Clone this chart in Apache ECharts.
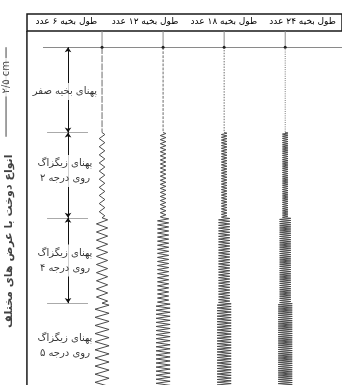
<!DOCTYPE html>
<html><head><meta charset="utf-8">
<script src="https://cdn.jsdelivr.net/npm/echarts@6/dist/echarts.min.js"></script>
<style>html,body{margin:0;padding:0;background:#fff}#c{width:342px;height:385px}</style>
</head><body><div id="c"></div>
<script>
// ---- data ----
const columnLabels = ['طول بخیه ۶ عدد', 'طول بخیه ۱۲ عدد', 'طول بخیه ۱۸ عدد', 'طول بخیه ۲۴ عدد'];
const stitchCounts = [6, 12, 18, 24];
const periodsPerRow = [10.5, 21, 31, 40];      // zigzag periods counted in one 2.5 cm row
const rowLabels = ['پهنای بخیه صفر', 'پهنای زیگزاگ\nروی درجه ۲', 'پهنای زیگزاگ\nروی درجه ۴', 'پهنای زیگزاگ\nروی درجه ۵'];
const zigzagWidths = [0, 2, 4, 5];
const yTitle = 'انواع دوخت با عرض های مختلف';
const rowLengthLabel = '۲/۵ cm';

// ---- layout ----
const FONT = 'DejaVu Sans';
const Y_MIN = -0.19, Y_MAX = 3.96, X_MIN = -1.671, X_MAX = 3.93;
const GRID_TOP = 31, H = 385;
const ROW_PX = (H - GRID_TOP) / (Y_MAX - Y_MIN);
const AMP = 0.023;           // half peak-to-peak (x units) per width unit
const borderX = -1.23, labelX = -0.607, arrowX = -0.557, dimX = -1.572, titleX = -1.52;
const labelYs = [0.52, 1.45, 2.5, 3.5];
const HIDDEN = { color: 'rgba(0,0,0,0)' };

const series = [];
stitchCounts.forEach((cnt, c) => {
  const n = periodsPerRow[c];
  series.push({
    type: 'line', z: 4, silent: true,
    data: [{ value: [c, Y_MIN], symbol: 'none' }, { value: [c, 0], symbol: 'circle', symbolSize: 3 }],
    lineStyle: { color: '#888', width: 1 }, itemStyle: { color: '#222' }
  });
  const pts = [];
  zigzagWidths.forEach((w, r) => {
    if (w === 0) {
      const pitch = ROW_PX / n;
      series.push({
        type: 'line', z: 4, silent: true, showSymbol: false,
        data: [[c, r], [c, r + 1]],
        lineStyle: { color: '#6a6a6a', width: 1, type: [Math.max(pitch - 1.3, 0.9), 1.3] }
      });
      return;
    }
    const a = w * AMP;
    const peaks = Math.round(2 * n);
    pts.push([c, r]);
    for (let j = 0; j < peaks; j++) pts.push([c + (j % 2 ? -a : a), r + (j + 0.5) / peaks]);
    pts.push([c, r + 1]);
  });
  series.push({
    type: 'line', z: 4, silent: true, showSymbol: false, data: pts,
    lineStyle: { color: '#4a4a4a', width: 1 }
  });
});

// left frame line
series.push({
  type: 'line', silent: true, showSymbol: false, z: 5,
  data: [[borderX, Y_MIN], [borderX, Y_MAX]], lineStyle: { color: '#1a1a1a', width: 1.5 }
});
// 2.5 cm dimension line (left margin)
series.push({
  type: 'line', silent: true, showSymbol: false, z: 2,
  data: [[dimX, 0], [dimX, 1.05]], lineStyle: { color: '#444', width: 1 }
});
// guide lines
const guideLines = [
  [{ coord: [-0.967, 0], lineStyle: { color: '#8a8a8a', width: 1, type: 'solid' } }, { coord: [X_MAX, 0] }]
];
[1, 2, 3].forEach(y => guideLines.push([{ coord: [-0.9, y], lineStyle: { color: '#aaa', width: 1, type: 'solid' } }, { coord: [-0.23, y] }]));
series.push({
  type: 'line', data: [], silent: true,
  markLine: { z: 1, silent: true, symbol: 'none', animation: false, label: { show: false },
    lineStyle: { type: 'solid' }, data: guideLines }
});
// dimension arrows
series.push({
  type: 'line', data: [], silent: true,
  markLine: {
    z: 1, silent: true, symbol: ['arrow', 'arrow'], symbolSize: 5, animation: false,
    label: { show: false }, lineStyle: { color: '#111', width: 1, type: 'solid' },
    data: zigzagWidths.map((w, r) => [{ coord: [arrowX, r] }, { coord: [arrowX, r + 1] }])
  }
});
// row labels
series.push({
  type: 'scatter', z: 3, silent: true, symbolSize: 1, itemStyle: HIDDEN,
  data: rowLabels.map((t, i) => ({ value: [labelX, labelYs[i]], name: t })),
  label: {
    show: true, position: 'inside', formatter: '{b}', fontFamily: FONT, fontSize: 10, lineHeight: 15,
    color: '#000', backgroundColor: '#fff', padding: [1, 1], align: 'center'
  }
});
// side titles
series.push({
  type: 'scatter', z: 3, silent: true, symbolSize: 1, itemStyle: HIDDEN,
  data: [
    { value: [titleX, (241 - 47) / ROW_PX], name: yTitle,
      label: { fontWeight: 'bold', fontSize: 11 } },
    { value: [dimX, (77 - 47) / ROW_PX], name: rowLengthLabel,
      label: { fontSize: 10, backgroundColor: '#fff', padding: [2, 3] } }
  ],
  label: { show: true, position: 'inside', formatter: '{b}', rotate: 90, fontFamily: FONT, color: '#111' }
});

const chart = echarts.init(document.getElementById('c'), null, { renderer: 'canvas' });
chart.setOption({
  animation: false,
  backgroundColor: '#fff',
  textStyle: { fontFamily: FONT },
  grid: [
    { left: 0, right: 0, top: GRID_TOP, bottom: 0 },
    { left: 27, right: -2, top: 14, height: 17, show: true, borderColor: '#1a1a1a', borderWidth: 1.5 }
  ],
  xAxis: [
    { type: 'value', min: X_MIN, max: X_MAX, show: false },
    { type: 'category', gridIndex: 1, data: columnLabels, axisLine: { show: false }, axisTick: { show: false },
      axisLabel: { inside: true, margin: 5, fontSize: 9, color: '#000', fontFamily: FONT, interval: 0 } }
  ],
  yAxis: [
    { type: 'value', inverse: true, min: Y_MIN, max: Y_MAX, show: false },
    { type: 'value', gridIndex: 1, show: false }
  ],
  series
});
</script></body></html>
